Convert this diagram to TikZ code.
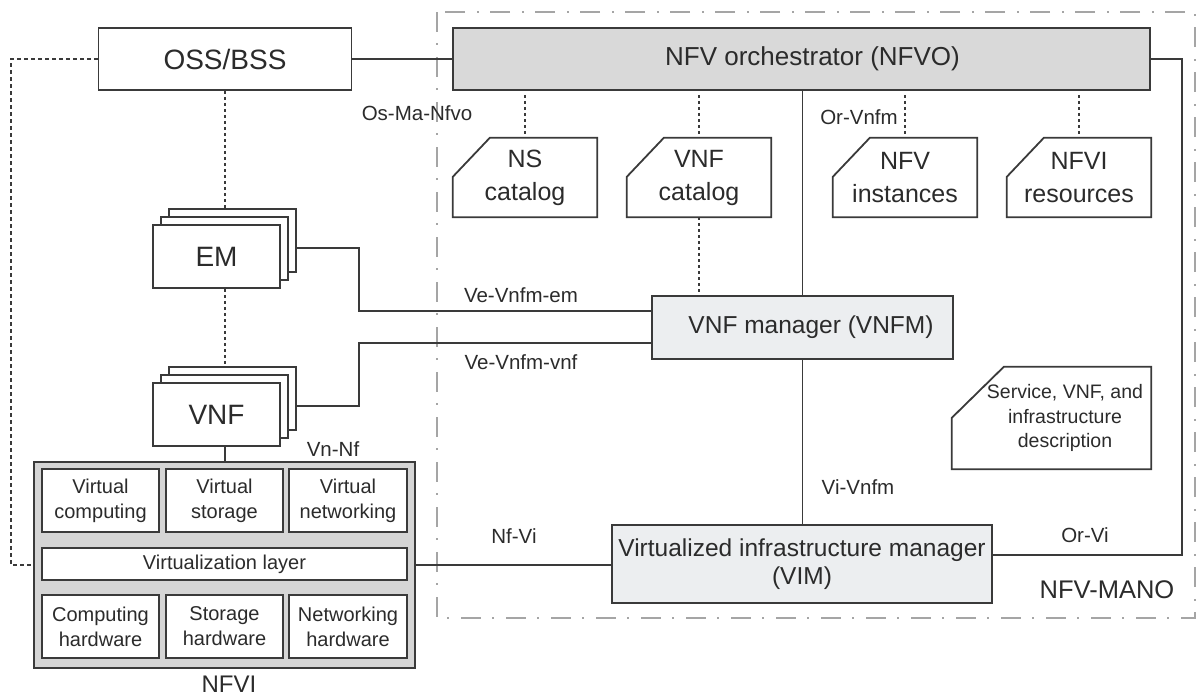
\documentclass[tikz,border=0pt]{standalone}
\usepackage{fontspec}
\setmainfont{Liberation Sans}
\usetikzlibrary{calc}

\definecolor{ink}{HTML}{2B2B2B}
\definecolor{edge}{HTML}{3A3A3A}
\definecolor{orchfill}{HTML}{D9D9D9}
\definecolor{mgrfill}{HTML}{ECEEF0}
\definecolor{nfvifill}{HTML}{D5D5D5}
\definecolor{manoline}{HTML}{A5A5A5}

\newcommand\fsz[2]{\fontsize{#1}{#2}\selectfont}

\begin{document}
\begin{tikzpicture}[x=1pt,y=-1pt,
  box/.style={draw=edge, line width=1.8pt, fill=white, inner sep=0pt,
    text=ink, align=center},
  cutbox/.style={inner sep=0pt, text=ink, align=center},
  outline/.style={draw=edge, line width=1.8pt, line join=miter},
  conn/.style={draw=edge, line width=1.7pt},
  dotline/.style={draw=edge, line width=2pt, dash pattern=on 3pt off 3pt},
  dashline/.style={draw=edge, line width=1.6pt, dash pattern=on 4pt off 3pt},
  iflabel/.style={text=ink, font=\fsz{20.5}{24}, anchor=base, inner sep=0pt},
  innerbox/.style={box, minimum width=117, minimum height=63, font=\fsz{20}{25}},
  catalog/.style={cutbox, minimum width=144, minimum height=79, font=\fsz{25}{33}},
]
\useasboundingbox (0,0) rectangle (1198,697);

% management and orchestration domain boundary
\draw[manoline, line width=1.3pt, dash pattern=on 20pt off 11pt on 2pt off 12pt]
  (437,12) rectangle (1195,618);

% top row
\node[box, minimum width=253, minimum height=62, font=\fsz{28}{32}] (oss) at (225,59) {OSS/BSS};
\node[box, fill=orchfill, minimum width=697, minimum height=62,
  label={[text=ink, font=\fsz{26}{30}, xshift=11pt]center:NFV orchestrator (NFVO)}] (nfvo) at (801.5,59) {};

% repositories
\node[catalog] (nscat)  at (525,177.5)  {NS\\catalog};
\node[catalog] (vnfcat) at (699,177.5)  {VNF\\catalog};
\node[catalog] (inst)   at (905,177.5)  {NFV\\instances};
\node[catalog] (res)    at (1079,177.5) {NFVI\\resources};
\node[cutbox, minimum width=199, minimum height=102,
  label={[text=ink, align=center, font=\fsz{19.5}{24.5}, xshift=13.5pt]center:Service, VNF, and\\infrastructure\\description}] (desc) at (1051.5,418) {};

\foreach \n/\cx/\cy in {nscat/37/39, vnfcat/37/39, inst/37/39, res/37/39, desc/52/51}
  \draw[outline] ($(\n.north west)+(\cx,0)$) -- (\n.north east) -- (\n.south east)
    -- (\n.south west) -- ($(\n.north west)+(0,\cy)$) -- cycle;

% managers
\node[box, fill=mgrfill, minimum width=301, minimum height=63,
  label={[text=ink, font=\fsz{24.5}{28}, xshift=8.5pt]center:VNF manager (VNFM)}] (vnfm) at (802.5,327.5) {};
\node[box, fill=mgrfill, minimum width=380, minimum height=78, font=\fsz{24.5}{28}] (vim) at (802,564)
  {Virtualized infrastructure manager\\(VIM)};

% element managers (stacked)
\node[box, minimum width=127, minimum height=63] (emback2) at (232.5,240.5) {};
\node[box, minimum width=127, minimum height=63] (emback1) at (224.5,248.5) {};
\node[box, minimum width=127, minimum height=63, font=\fsz{28}{32}] (em) at (216.5,256.5) {EM};

% virtual network functions (stacked)
\node[box, minimum width=127, minimum height=63] (vnfback2) at (232.5,398.5) {};
\node[box, minimum width=127, minimum height=63] (vnfback1) at (224.5,406.5) {};
\node[box, minimum width=127, minimum height=63, font=\fsz{28}{32}] (vnf) at (216.5,414.5) {VNF};

% NFV infrastructure
\node[box, fill=nfvifill, minimum width=381, minimum height=206] (nfvi) at (224.5,565) {};
\node[innerbox] (vcomp) at (100.5,500.5) {Virtual\\computing};
\node[innerbox] (vstor) at (224.5,500.5) {Virtual\\storage};
\node[innerbox, minimum width=118] (vnet) at (348,500.5) {Virtual\\networking};
\node[box, minimum width=365, minimum height=32, font=\fsz{20}{25}] (vlayer) at (224.5,564) {Virtualization layer};
\node[innerbox] (hcomp) at (100.5,626.5) {Computing\\hardware};
\node[innerbox] (hstor) at (224.5,626.5) {Storage\\hardware};
\node[innerbox, minimum width=118] (hnet) at (348,626.5) {Networking\\hardware};
\node[text=ink, font=\fsz{24}{28}, anchor=base, inner sep=0pt] (nfvilabel) at (229,692) {NFVI};

% bend points
\coordinate (emjoin)  at (359,311);
\coordinate (vnfjoin) at (359,343);
\coordinate (orvi)    at (1182,555);
\coordinate (ossloop) at (11,565);

% reference points
\draw[conn] (oss.east) -- (nfvo.west);
\draw[conn] (vnfm.north |- nfvo.south) -- (vnfm.north);
\draw[conn] (vnfm.south) -- (vnfm.south |- vim.north);
\draw[conn] (nfvo.east) -| (orvi) -- (vim.east |- orvi);
\draw[conn] ($(emback2.east)+(0,7.5)$) -| (emjoin) -- (vnfm.west |- emjoin);
\draw[conn] ($(vnfback2.east)+(0,7.5)$) -| (vnfjoin) -- (vnfm.west |- vnfjoin);
\draw[conn] (vnf.south -| oss.south) -- (oss.south |- nfvi.north);
\draw[conn] (nfvi.east) -- (nfvi.east -| vim.west);

% repository and management links
\foreach \c in {nscat, vnfcat, inst, res}
  \draw[dotline] ($(\c.north |- nfvo.south)+(0,4)$) -- (\c.north);
\draw[dotline] (vnfcat.south) -- (vnfcat.south |- vnfm.north);
\draw[dotline] (oss.south) -- (oss.south |- emback2.north);
\draw[dotline] (em.south -| oss.south) -- (oss.south |- vnfback2.north);
\draw[dashline] (oss.west) -| (ossloop) -- (nfvi.west);

% interface names
\node[iflabel] (lbosma)  at (417,120)  {Os-Ma-Nfvo};
\node[iflabel] (lborvnfm) at (859,124) {Or-Vnfm};
\node[iflabel] (lbveem)  at (521,302)  {Ve-Vnfm-em};
\node[iflabel] (lbvevnf) at (521,369)  {Ve-Vnfm-vnf};
\node[iflabel] (lbvnnf)  at (333,456)  {Vn-Nf};
\node[iflabel] (lbnfvi)  at (514,543)  {Nf-Vi};
\node[iflabel] (lbvivnfm) at (858,494) {Vi-Vnfm};
\node[iflabel] (lborvi)  at (1085,542) {Or-Vi};
\node[text=ink, font=\fsz{25.5}{30}, anchor=base, inner sep=0pt] (manolabel) at (1107,598) {NFV-MANO};
\end{tikzpicture}
\end{document}
